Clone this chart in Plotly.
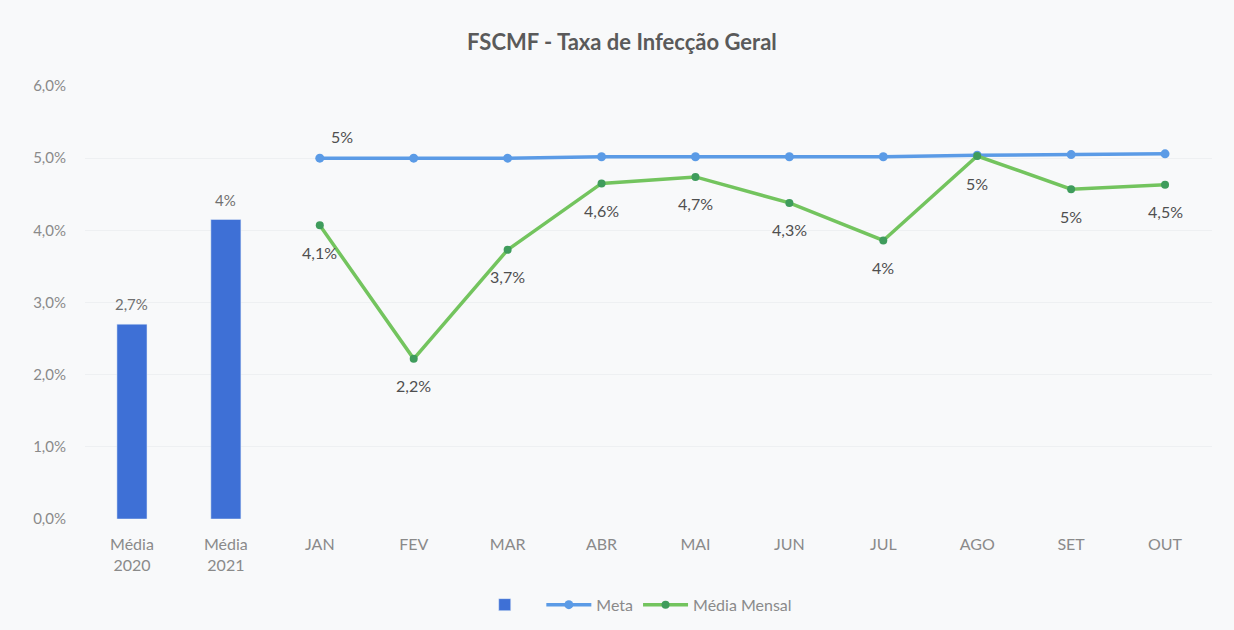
import plotly.graph_objects as go

categories = ["Média<br>2020", "Média<br>2021", "JAN", "FEV", "MAR", "ABR", "MAI", "JUN", "JUL", "AGO", "SET", "OUT"]
bar_cats = ["Média<br>2020", "Média<br>2021"]
bar_values = [2.7, 4.15]
bar_labels = ["2,7%", "4%"]
months = ["JAN", "FEV", "MAR", "ABR", "MAI", "JUN", "JUL", "AGO", "SET", "OUT"]
meta_values = [5.0, 5.0, 5.0, 5.02, 5.02, 5.02, 5.02, 5.04, 5.05, 5.06]
meta_labels = ["5%", "", "", "", "", "", "", "", "", ""]
mensal_values = [4.07, 2.22, 3.73, 4.65, 4.74, 4.38, 3.86, 5.03, 4.57, 4.63]
mensal_labels = ["4,1%", "2,2%", "3,7%", "4,6%", "4,7%", "4,3%", "4%", "5%", "5%", "4,5%"]
y_ticks = [0, 1, 2, 3, 4, 5, 6]
y_tick_labels = ["0,0%", "1,0%", "2,0%", "3,0%", "4,0%", "5,0%", "6,0%"]

FONT = "Lato, 'Open Sans', sans-serif"
BG = "#f8f9fa"

fig = go.Figure()
fig.add_trace(go.Bar(
    x=bar_cats, y=bar_values, name=" ", width=0.32,
    marker=dict(color="#3e70d6"),
))
fig.add_trace(go.Scatter(
    x=months, y=meta_values, name="Meta", mode="lines+markers",
    line=dict(color="#5b9be6", width=3.5),
    marker=dict(color="#5b9be6", size=9),
))
fig.add_trace(go.Scatter(
    x=months, y=mensal_values, name="Média Mensal", mode="lines+markers",
    line=dict(color="#73c45e", width=3.5),
    marker=dict(color="#3f9c5c", size=8),
))

annotations = []
for c, v, t in zip(bar_cats, bar_values, bar_labels):
    annotations.append(dict(x=c, y=v, text=t, showarrow=False, yshift=20,
                            font=dict(size=15, color="#707070", family=FONT)))
for c, v, t in zip(months, meta_values, meta_labels):
    if t:
        annotations.append(dict(x=c, y=v, text=t, showarrow=False, yshift=22, xshift=22,
                                font=dict(size=16, color="#4f4f4f", family=FONT)))
for c, v, t in zip(months, mensal_values, mensal_labels):
    annotations.append(dict(x=c, y=v, text=t, showarrow=False, yshift=-27,
                            font=dict(size=16, color="#4f4f4f", family=FONT)))

fig.update_layout(
    width=1234, height=630,
    paper_bgcolor=BG, plot_bgcolor=BG,
    margin=dict(l=85, r=22, t=86, b=111, autoexpand=False),
    title=dict(text="<b>FSCMF - Taxa de Infecção Geral</b>", x=0.504, xanchor="center",
               y=0.933, yanchor="middle",
               font=dict(size=22, color="#5a5a5a", family=FONT)),
    font=dict(family=FONT, color="#8a8a8a", size=14),
    showlegend=True,
    legend=dict(orientation="h", x=0.49, xanchor="center", y=-0.198, yanchor="middle",
                font=dict(size=16, color="#8a8a8a"), bgcolor="rgba(0,0,0,0)",
                traceorder="normal", itemwidth=45),
    annotations=annotations,
)
fig.update_xaxes(categoryorder="array", categoryarray=categories, range=[-0.5, 11.5],
                 showgrid=False, automargin=False,
                 showline=False, ticks="", tickfont=dict(size=16, color="#8a8a8a"),
                 ticklabelstandoff=14)
fig.update_yaxes(range=[0, 6], tickvals=y_ticks, ticktext=y_tick_labels, showgrid=True,
                 automargin=False,
                 gridcolor="#eef0f2", zeroline=False, showline=False,
                 tickfont=dict(size=15, color="#8a8a8a"), ticklabelstandoff=18)

fig.write_html("out.html", config={"displayModeBar": False},
               post_script="document.body.style.margin='0';document.body.style.background='%s';" % BG)
